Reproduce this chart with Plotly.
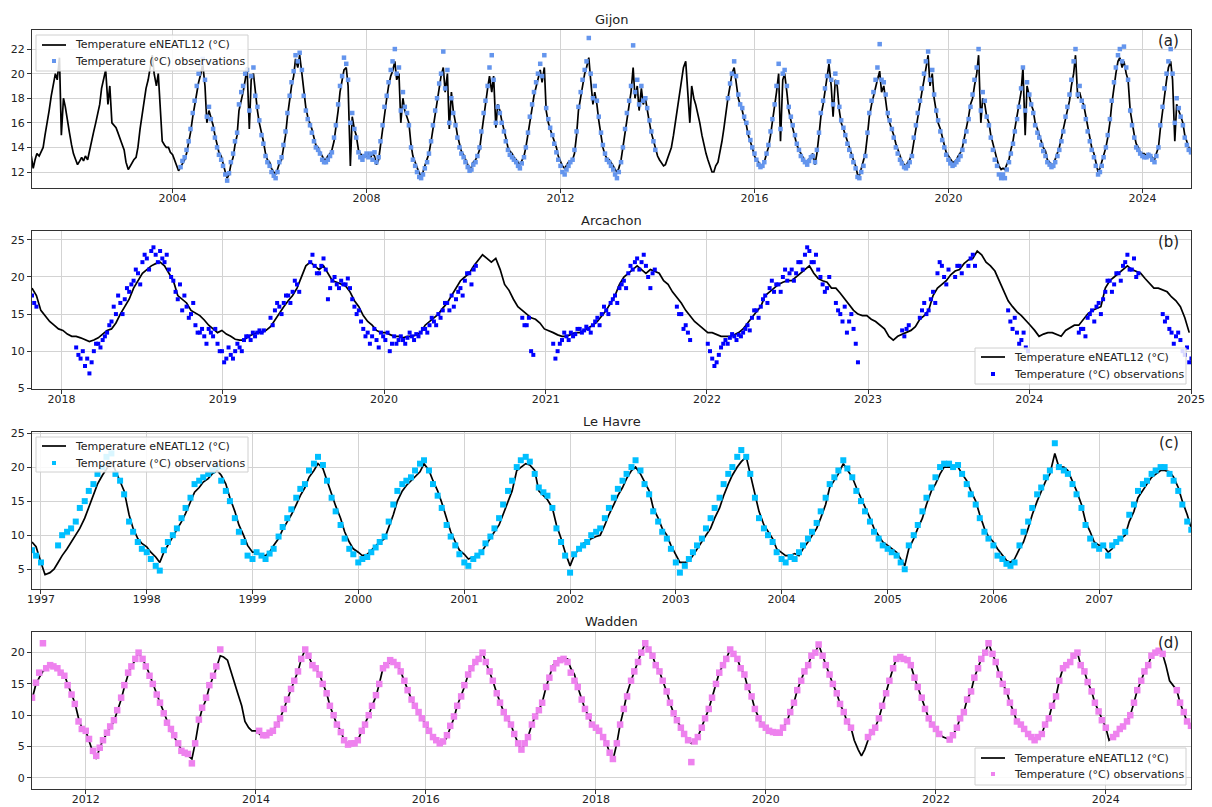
import plotly.graph_objects as go
import pandas as pd

# ---------------- DATA (semi-monthly rows: 1st and 15th of each month) ----------------
# Gijon model, first row starts 2001 slot 2 (Feb 1)
gijon_model_start = (2001, 2)
gijon_model = [
    [13.3, 12.3, 13.0, 13.5, 13.3, 13.7, 14.0, 15.0, 16.0, 17.0, 18.2, 19.0, 20.0, 19.5, 21.3, 15.0, 18.0, 17.3, 16.0, 15.2, 14.2, 13.5],
    [13.0, 12.6, 12.9, 13.2, 12.9, 13.3, 13.0, 13.8, 14.5, 15.2, 16.0, 16.8, 17.5, 18.8, 19.5, 20.3, 17.5, 19.0, 16.0, 15.8, 15.6, 15.2, 14.8, 14.3],
    [13.8, 12.8, 12.2, 12.5, 12.8, 13.0, 13.2, 14.0, 15.5, 16.5, 17.5, 18.8, 19.5, 20.5, 21.5, 20.0, 19.0, 20.0, 17.5, 14.5, 14.2, 14.0, 14.0, 13.6],
    [13.4, 13.0, 12.6, 12.1, 12.4, 12.7, 13.0, 13.5, 14.3, 15.2, 16.5, 17.5, 18.5, 19.3, 20.0, 20.8, 19.0, 16.0, 17.0, 16.5, 15.8, 15.0, 14.3, 13.6],
    [13.3, 12.6, 12.0, 11.5, 11.8, 12.6, 13.2, 14.2, 15.0, 17.0, 17.8, 18.5, 19.5, 20.5, 15.5, 19.5, 20.0, 18.5, 17.0, 16.0, 15.3, 14.5, 13.5, 13.0],
    [12.8, 12.3, 12.0, 11.8, 12.2, 12.7, 13.0, 14.0, 15.0, 16.5, 18.0, 19.0, 19.8, 21.2, 20.5, 21.5, 20.0, 18.5, 17.2, 16.5, 16.0, 15.5, 14.8, 14.2],
    [14.0, 13.6, 13.3, 13.0, 13.0, 13.3, 13.5, 13.8, 14.5, 15.5, 17.0, 18.5, 19.5, 20.3, 20.5, 19.0, 12.5, 16.5, 15.5, 15.0, 13.8, 13.5, 13.3, 13.4],
    [13.3, 13.5, 13.2, 13.5, 13.3, 12.6, 13.0, 14.2, 15.5, 17.0, 18.0, 19.0, 19.8, 20.2, 21.0, 19.5, 20.0, 16.0, 18.0, 17.0, 16.5, 16.0, 14.2, 13.3],
    [12.8, 12.3, 11.9, 11.7, 12.0, 12.5, 13.0, 13.5, 14.5, 15.5, 16.8, 17.8, 19.0, 19.8, 20.5, 18.5, 20.0, 15.5, 18.5, 17.0, 16.0, 15.0, 14.3, 13.7],
    [13.4, 13.0, 12.6, 12.3, 12.4, 12.8, 13.0, 13.3, 13.8, 15.0, 16.5, 17.5, 18.8, 19.8, 18.5, 19.8, 15.6, 17.5, 17.0, 16.2, 15.5, 14.8, 14.0, 13.7],
    [13.5, 13.2, 13.0, 12.8, 12.6, 12.9, 13.3, 14.0, 15.0, 16.2, 17.2, 18.2, 19.0, 19.5, 20.3, 19.3, 20.5, 17.0, 16.0, 15.5, 15.0, 14.5, 14.0, 13.3],
    [12.8, 12.5, 12.3, 12.6, 12.8, 12.9, 13.0, 13.5, 15.0, 17.0, 18.2, 19.2, 20.0, 20.5, 21.3, 19.5, 17.5, 18.5, 17.5, 16.2, 15.0, 14.0, 13.4, 13.1],
    [13.0, 12.8, 12.5, 12.2, 12.0, 12.3, 13.0, 14.0, 15.2, 16.5, 17.5, 18.5, 20.5, 18.0, 19.0, 17.0, 18.8, 17.5, 18.0, 17.0, 16.0, 15.2, 14.5, 13.8],
    [13.3, 13.0, 12.7, 12.5, 12.6, 13.0, 13.5, 14.0, 15.0, 16.0, 17.5, 18.5, 19.5, 20.5, 21.0, 19.0, 16.0, 19.0, 18.0, 17.5, 16.8, 16.0, 15.0, 14.2],
    [13.5, 13.0, 12.5, 12.0, 12.0, 12.5, 12.8, 13.5, 14.5, 15.5, 17.0, 18.0, 19.0, 20.0, 20.5, 19.5, 18.0, 17.5, 17.0, 16.3, 15.8, 15.0, 14.5, 14.0],
    [13.3, 13.0, 12.8, 12.5, 12.6, 12.8, 13.5, 14.0, 15.0, 16.0, 17.2, 18.5, 20.0, 14.5, 19.5, 20.0, 18.5, 17.0, 16.2, 15.5, 14.8, 14.2, 13.8, 13.5],
    [13.2, 12.9, 12.8, 13.0, 13.3, 13.5, 12.6, 13.5, 15.0, 16.5, 17.5, 18.5, 19.5, 20.8, 19.0, 16.5, 19.5, 19.0, 17.0, 16.0, 15.5, 15.0, 14.5, 14.0],
    [13.5, 13.0, 12.5, 11.8, 11.7, 12.3, 12.8, 13.5, 15.0, 16.5, 17.5, 18.2, 19.0, 19.5, 20.2, 18.5, 19.0, 18.0, 16.5, 16.0, 15.5, 15.0, 14.3, 13.8],
    [13.2, 12.9, 12.6, 12.5, 12.8, 13.0, 13.5, 14.5, 15.5, 16.5, 17.5, 18.5, 19.5, 20.5, 21.5, 19.0, 20.0, 18.0, 16.8, 16.0, 15.5, 14.8, 14.2, 13.6],
    [13.3, 13.0, 12.8, 12.8, 13.0, 13.3, 13.6, 14.0, 14.8, 15.5, 16.5, 17.5, 18.0, 19.0, 20.0, 21.5, 16.0, 18.0, 17.5, 16.5, 16.0, 15.0, 14.3, 13.5],
    [13.0, 12.5, 12.2, 12.3, 12.2, 12.6, 13.0, 13.8, 14.5, 15.5, 16.5, 17.5, 18.5, 20.5, 15.0, 19.0, 18.0, 17.5, 17.0, 16.0, 15.5, 15.0, 14.5, 14.0],
    [13.7, 13.0, 12.8, 12.6, 12.6, 13.0, 13.5, 14.0, 14.8, 15.5, 16.3, 17.0, 17.8, 19.0, 20.0, 21.5, 18.0, 18.5, 17.8, 17.5, 16.5, 15.5, 14.8, 14.0],
    [13.5, 12.8, 12.0, 12.3, 12.8, 13.3, 14.0, 14.8, 16.0, 17.5, 19.0, 20.0, 21.0, 21.3, 20.5, 21.0, 20.0, 19.5, 17.0, 16.0, 15.0, 14.3, 14.0, 13.6],
    [13.5, 13.5, 13.3, 13.5, 13.4, 13.2, 13.0, 13.5, 14.0, 15.5, 17.0, 18.5, 19.5, 20.5, 21.0, 19.5, 14.5, 17.5, 17.0, 16.5, 16.0, 15.0, 14.5, 14.0],
    [13.8],
]
# Gijon observations, two segments
gijon_obs_a_start = (2004, 4)
gijon_obs_a = [
    [12.4, 12.9, 13.2, 13.8, 14.5, 15.5, 16.8, 17.8, 19.0, 20.0, 20.8, 21.2, 19.5, 16.5, 17.3, 16.3, 15.5, 14.8, 14.0, 13.4],
    [13.0, 12.5, 11.8, 11.3, 11.9, 12.8, 13.5, 14.5, 15.2, 17.5, 18.5, 19.0, 20.0, 20.3, 17.0, 19.8, 20.5, 18.2, 17.3, 16.2, 15.0, 14.3, 13.3, 12.8],
    [12.5, 12.0, 11.7, 11.5, 12.0, 12.8, 13.2, 14.2, 15.3, 16.8, 18.2, 19.3, 20.2, 21.5, 21.0, 21.7, 20.3, 18.2, 17.0, 16.3, 15.8, 15.2, 14.5, 14.0],
    [13.8, 13.5, 13.0, 12.8, 12.8, 13.0, 13.3, 13.6, 14.8, 15.8, 17.5, 19.0, 19.8, 21.3, 20.8, 19.5, 16.0, 16.8, 15.5, 14.8, 13.6, 13.2, 13.0, 13.3],
    [13.5, 13.2, 13.5, 13.0, 13.6, 12.8, 13.2, 14.5, 15.8, 17.3, 18.2, 19.3, 20.3, 21.0, 22.0, 20.0, 20.5, 17.0, 18.5, 17.3, 16.8, 15.8, 14.0, 13.0],
    [12.5, 12.0, 11.6, 11.5, 11.8, 12.3, 12.8, 13.5, 14.5, 15.8, 17.0, 18.0, 19.2, 20.0, 21.8, 18.8, 20.3, 16.0, 18.0, 16.8, 15.8, 14.8, 14.0, 13.5],
    [13.2, 12.8, 12.4, 12.1, 12.2, 12.6, 12.8, 13.3, 14.0, 15.3, 16.8, 17.8, 19.0, 20.5, 21.5, 19.5, 16.0, 17.3, 16.8, 16.0, 15.3, 14.5, 13.8, 13.4],
    [13.2, 13.0, 12.8, 12.5, 12.3, 12.7, 13.2, 14.0, 15.2, 16.5, 17.5, 18.5, 19.3, 20.0, 20.8, 19.8, 21.5, 17.2, 16.3, 15.6, 15.0, 14.3, 13.6, 13.0],
    [12.5, 12.0, 11.8, 12.2, 12.5, 12.8, 13.0, 13.8, 15.3, 17.3, 18.5, 19.5, 20.3, 21.0, 22.9, 20.0, 18.0, 19.0, 17.8, 16.5, 15.2, 14.2, 13.5, 13.0],
    [12.8, 12.5, 12.2, 11.8, 11.5, 12.0, 12.8, 14.0, 15.5, 16.8, 17.8, 19.0, 22.3, 18.5, 19.5, 17.5, 19.0, 17.8, 18.0, 17.2, 16.2, 15.3, 14.5, 13.8],
]
gijon_obs_b_start = (2015, 11)
gijon_obs_b = [
    [18.0, 19.2, 20.0, 21.0, 19.8, 18.3, 17.5, 17.2, 16.5, 16.0, 15.2, 14.6, 14.0],
    [13.5, 13.0, 12.6, 12.4, 12.5, 12.8, 13.5, 14.2, 15.3, 16.3, 17.5, 19.0, 20.8, 15.5, 20.0, 20.3, 19.0, 17.3, 16.5, 15.8, 15.0, 14.3, 13.8, 13.3],
    [13.0, 12.8, 12.6, 12.9, 13.2, 13.3, 12.8, 13.8, 15.2, 16.8, 17.8, 18.8, 19.8, 21.0, 19.5, 17.5, 20.0, 19.3, 17.3, 16.2, 15.6, 15.0, 14.3, 13.8],
    [13.3, 12.8, 12.3, 11.6, 11.5, 12.0, 12.5, 13.3, 15.2, 16.8, 17.8, 18.5, 19.5, 20.5, 22.4, 19.5, 19.3, 18.3, 16.8, 16.2, 15.5, 14.8, 14.0, 13.5],
    [13.0, 12.7, 12.4, 12.3, 12.5, 12.8, 13.3, 14.8, 15.8, 16.8, 17.8, 18.8, 20.0, 21.0, 21.8, 19.5, 20.3, 18.3, 17.0, 16.2, 15.3, 14.6, 14.0, 13.4],
    [13.0, 12.7, 12.5, 12.6, 12.8, 13.0, 13.3, 13.8, 14.5, 15.3, 16.3, 17.3, 18.3, 19.5, 20.5, 22.0, 17.0, 18.5, 17.8, 16.5, 15.8, 14.8, 13.8, 13.0],
    [12.5, 11.8, 11.5, 11.8, 11.5, 12.2, 12.8, 13.5, 14.3, 15.3, 16.3, 17.3, 18.8, 20.5, 17.0, 19.3, 18.3, 17.5, 16.8, 15.8, 15.2, 14.8, 14.2, 13.7],
    [13.3, 12.8, 12.6, 12.4, 12.5, 12.8, 13.3, 13.8, 14.5, 15.3, 16.5, 17.3, 18.3, 19.5, 21.0, 22.0, 18.3, 19.0, 17.8, 17.3, 16.3, 15.3, 14.5, 13.8],
    [13.2, 12.5, 11.8, 12.0, 12.5, 13.2, 14.0, 15.0, 16.3, 17.8, 19.3, 20.5, 21.5, 22.0, 21.0, 22.2, 20.5, 19.5, 17.0, 15.8, 14.8, 14.0, 13.8, 13.5],
    [13.3, 13.2, 13.2, 13.4, 13.3, 13.0, 12.8, 13.3, 14.0, 15.8, 17.3, 18.8, 20.0, 21.0, 22.0, 20.0, 16.0, 18.0, 17.2, 16.5, 15.8, 14.8, 14.2, 13.8],
    [13.6],
]

# Arcachon: every 10 days from 2017-10-26 (second obs list is 5 days later)
arcachon_start = "2017-10-26"
arcachon_model = [
    18.5, 17.5, 15.5, 14.8, 14.0, 13.5, 13.0, 12.8, 12.3, 12.0,
    12.0, 11.8, 11.5, 11.3, 11.5, 11.8, 12.3, 12.8, 13.0, 13.8,
    15.0, 16.0, 17.0, 18.5, 19.5, 20.5, 21.0, 21.5, 21.8, 22.0,
    21.5, 20.5, 19.5, 17.5, 17.0, 16.5, 15.5, 15.2, 14.8, 14.2,
    13.5, 13.0, 12.5, 12.8, 12.3, 12.0, 11.6, 11.5, 11.5, 12.0,
    12.3, 12.5, 12.5, 12.8, 13.3, 14.2, 15.2, 16.0, 16.8, 17.5,
    18.5, 20.0, 21.5, 22.0, 21.5, 21.0, 21.5, 20.5, 19.5, 19.3,
    19.0, 18.8, 18.0, 16.8, 16.0, 14.8, 14.0, 13.5, 12.8, 12.5,
    12.5, 12.2, 12.0, 12.0, 11.8, 12.0, 12.0, 12.2, 12.5, 13.5,
    14.0, 14.5, 15.0, 15.8, 16.5, 17.5, 18.5, 19.5, 20.0, 20.5,
    21.5, 22.3, 23.0, 22.5, 22.0, 22.5, 21.0, 19.0, 18.2, 17.0,
    16.0, 15.5, 15.0, 14.5, 14.3, 13.8, 13.0, 12.8, 12.5, 12.2,
    12.0, 12.0, 12.3, 12.5, 12.5, 12.8, 13.2, 13.5, 14.0, 14.8,
    15.5, 16.5, 17.5, 19.0, 20.0, 20.5, 21.0, 21.5, 21.0, 20.5,
    21.0, 20.8, 20.5, 19.5, 19.0, 18.0, 17.2, 16.5, 15.5, 14.8,
    14.0, 13.5, 13.0, 12.5, 12.5, 12.2, 12.0, 12.0, 12.0, 12.2,
    12.5, 13.0, 13.8, 14.5, 15.3, 16.0, 17.5, 18.0, 18.5, 19.0,
    19.3, 19.5, 19.5, 20.0, 20.5, 21.0, 21.5, 20.5, 19.8, 19.5,
    19.3, 18.5, 18.5, 17.8, 17.0, 16.2, 15.5, 15.0, 14.8, 14.8,
    14.3, 14.0, 13.5, 13.0, 12.0, 11.5, 12.0, 12.3, 12.5, 12.8,
    13.3, 14.3, 14.8, 15.5, 17.5, 18.5, 19.0, 19.5, 20.3, 20.8,
    21.0, 21.8, 22.3, 22.5, 23.5, 23.0, 22.0, 21.5, 20.8, 19.5,
    18.0, 16.8, 16.0, 15.3, 14.8, 14.2, 13.5, 12.8, 12.0, 12.3,
    12.5, 12.5, 12.3, 12.0, 12.8, 13.2, 13.5, 13.5, 14.3, 15.0,
    15.5, 15.8, 16.0, 18.5, 19.5, 20.0, 20.5, 21.0, 21.5, 21.0,
    20.8, 20.5, 19.8, 19.2, 18.5, 18.5, 18.3, 18.0, 17.3, 16.8,
    16.0, 14.5, 12.5,
]
N = None
arcachon_obs = [
    17.5, 16.0, N, N, N, N, N, N, N, N,
    10.5, 9.0, 8.0, 7.0, 10.0, 11.0, 11.5, 12.5, 14.0, 15.0,
    16.5, 17.0, 18.0, 19.5, 20.5, 22.0, 22.5, 23.5, 23.0, 23.5,
    22.0, 21.0, 19.5, 17.0, 15.5, 16.0, 15.0, 13.5, 12.5, 12.0,
    13.0, 12.0, 11.0, 10.0, 9.0, 9.5, 10.0, 10.5, 11.5, 12.0,
    12.5, 12.5, 12.5, N, 14.5, 15.5, 16.0, 16.5, 17.5, 18.0,
    19.0, N, N, 22.0, 21.5, 20.5, 22.5, 17.0, 19.5, 19.0,
    19.5, 19.0, 18.5, 16.0, 15.5, 13.0, 12.5, 12.0, 11.5, 12.5,
    11.5, 10.0, 12.0, 11.5, 11.5, 11.8, 12.0, 12.3, 12.5, 13.0,
    13.5, 14.0, 15.0, 15.5, 16.5, 17.5, 17.0, 18.5, 19.5, 20.5,
    21.0, N, N, N, N, N, N, N, N, N,
    N, 14.5, 13.5, 10.0, N, N, N, N, 11.0, 10.0,
    11.5, 12.0, 12.5, 12.3, 13.0, 12.8, 13.0, 13.5, 14.5, 15.0,
    15.5, 16.5, 17.5, 18.5, 19.5, 20.5, 21.0, 22.5, 22.0, 21.5,
    18.5, 21.0, N, N, N, N, 16.0, 15.0, 13.5, 11.5,
    N, N, N, 11.0, 9.0, 8.5, 10.5, 11.5, 11.8, 12.0,
    12.2, 12.5, 13.5, 14.5, 15.5, 16.0, 17.5, 18.5, 18.0, 19.0,
    20.0, 19.5, 21.0, 20.5, 22.0, 23.0, 23.5, 22.0, 21.0, 19.0,
    18.5, N, 16.5, 15.0, 16.0, 14.0, 13.0, 8.5, N, N,
    N, N, N, N, N, N, N, 12.8, 13.0, N,
    N, 14.5, 16.5, 15.5, 18.0, 20.5, 21.5, 19.0, N, 20.0,
    21.5, N, 21.5, 23.0, N, N, N, N, N, N,
    N, 15.5, 13.0, 12.5, 11.5, 10.5, N, N, N, N,
    N, N, N, N, N, N, N, 12.5, 13.0, 14.5,
    15.5, 16.0, 15.0, 18.0, 19.5, 19.0, 20.5, 21.5, 23.0, 21.0,
    20.0, N, N, N, N, N, 15.0, 14.5, 12.5, 12.0,
    11.5, 9.5, 8.5,
]
arcachon_obs_mid = [
    16.5, N, N, N, N, N, N, N, N, N,
    9.5, 10.0, 9.0, 8.5, 11.0, 10.5, 12.0, 13.5, 16.0, 17.5,
    15.0, 18.5, 19.0, 21.0, 19.0, 23.0, 21.0, 24.0, 22.0, 22.5,
    23.0, 20.0, 18.0, 19.0, 17.5, 14.5, 16.5, 12.5, 13.0, 11.0,
    12.5, 13.0, 10.0, 8.5, 10.5, 9.0, 11.0, 10.0, 12.0, 11.5,
    12.0, 12.8, 12.8, N, 13.5, 16.5, 15.0, 17.5, 16.5, 19.5,
    18.0, N, N, 23.0, 20.5, 21.5, 21.0, 18.5, 20.0, 18.5,
    19.0, 19.8, 17.0, 15.0, 14.0, 12.0, 11.0, 13.0, 10.5, 12.0,
    12.5, 11.0, 11.0, 12.0, 11.0, 12.5, 11.5, 12.0, 13.0, 12.5,
    14.5, 13.5, 14.5, 16.5, 15.5, 16.0, 18.0, 17.5, 20.5, 19.0,
    21.5, N, N, N, N, N, N, N, N, N,
    N, 13.5, 14.5, 9.5, N, N, N, N, 9.0, 11.0,
    12.5, 11.5, 12.0, 13.0, 12.5, 13.3, 12.5, 14.0, 13.5, 16.0,
    15.0, 17.0, 16.5, 19.0, 18.5, 21.5, 22.0, 21.0, 23.0, 20.0,
    20.5, N, N, N, N, N, 15.0, 13.0, 12.5, N,
    N, N, N, 10.0, 8.0, 9.5, 11.0, 11.0, 12.3, 11.5,
    12.0, 13.0, 12.8, 15.5, 14.5, 17.0, 16.5, 19.5, 19.0, 18.0,
    21.0, 20.5, 19.5, 22.0, 21.0, 24.0, 22.0, 23.0, 20.0, 18.0,
    20.0, N, 15.5, 14.0, 12.5, 15.0, 11.0, N, N, N,
    N, N, N, N, N, N, N, 12.0, 13.5, N,
    N, 15.5, 15.0, 17.0, 16.5, 22.0, 20.0, 21.0, N, 21.5,
    20.5, N, 22.5, 21.5, N, N, N, N, N, N,
    N, 14.0, 14.5, 11.0, 12.5, 10.0, N, N, N, N,
    N, N, N, N, N, N, N, 13.0, 12.0, 15.0,
    14.0, 16.5, 17.0, 19.5, 18.0, 20.5, 19.5, 22.0, 21.0, 22.5,
    20.5, N, N, N, N, N, 14.0, 13.0, 11.0, 12.5,
    10.0, 10.5, 9.0,
]

# Le Havre, first row starts 1996 slot 22 (Dec 1)
lehavre_start = (1996, 22)
lehavre_model = [
    [9.0, 8.3],
    [6.0, 4.2, 4.5, 5.0, 6.0, 7.0, 8.0, 9.0, 10.2, 11.0, 12.5, 14.0, 16.0, 17.5, 18.8, 19.8, 20.8, 19.5, 18.0, 16.5, 13.0, 11.0, 9.5, 8.8],
    [8.3, 7.5, 6.8, 6.0, 7.5, 8.5, 9.8, 10.8, 12.0, 13.2, 15.0, 16.3, 17.0, 17.8, 18.3, 19.0, 19.5, 18.8, 17.5, 15.5, 13.5, 11.5, 10.0, 8.5],
    [7.5, 7.5, 7.0, 7.0, 7.5, 8.5, 9.5, 10.8, 12.0, 13.0, 14.5, 15.8, 17.0, 18.5, 19.5, 20.5, 19.8, 18.0, 16.0, 14.3, 12.5, 10.5, 9.0, 8.0],
    [7.5, 7.0, 7.2, 7.8, 8.5, 9.0, 9.5, 11.0, 13.0, 15.0, 16.5, 17.3, 18.0, 18.5, 19.3, 20.5, 19.5, 18.0, 16.5, 14.8, 12.5, 10.5, 9.0, 7.8],
    [7.2, 6.5, 6.8, 7.0, 7.5, 8.5, 9.5, 10.5, 11.5, 13.0, 15.0, 16.5, 19.5, 20.0, 20.5, 20.3, 19.5, 16.5, 15.8, 15.2, 14.0, 11.5, 9.5, 7.5],
    [5.5, 7.0, 8.0, 8.8, 9.0, 9.5, 9.8, 10.0, 11.5, 13.0, 14.5, 15.8, 17.0, 18.3, 19.5, 20.0, 19.0, 17.8, 16.5, 14.0, 12.5, 11.0, 10.0, 8.5],
    [7.0, 6.0, 6.0, 6.2, 7.0, 8.0, 9.0, 10.0, 11.0, 12.5, 14.0, 15.8, 17.5, 18.8, 20.0, 20.8, 21.5, 19.0, 16.0, 13.5, 11.5, 10.5, 9.5, 8.0],
    [7.5, 7.0, 7.0, 7.3, 7.0, 8.0, 9.0, 10.0, 11.0, 12.5, 14.5, 17.0, 18.0, 19.0, 20.5, 19.5, 18.5, 17.0, 15.5, 14.0, 12.5, 11.0, 10.0, 9.0],
    [8.5, 8.0, 7.5, 6.5, 5.5, 8.0, 9.5, 11.0, 12.5, 14.5, 16.5, 17.5, 19.0, 20.0, 20.0, 20.0, 20.0, 19.0, 18.0, 16.5, 15.0, 13.0, 11.0, 9.8],
    [9.0, 8.0, 7.0, 6.3, 6.0, 6.5, 8.0, 9.0, 11.0, 13.0, 15.0, 16.5, 18.0, 19.0, 22.0, 20.0, 20.0, 19.5, 18.0, 16.5, 14.5, 12.0, 10.5, 9.0],
    [8.5, 8.5, 7.5, 8.0, 9.0, 9.5, 10.0, 12.0, 13.5, 15.5, 16.5, 17.5, 18.5, 19.0, 19.5, 19.5, 19.3, 18.5, 17.0, 15.0, 13.0, 11.0],
]
lehavre_obs = [
    [7.8, 7.0],
    [6.0, N, N, N, 8.5, 10.0, 10.5, 11.0, 12.0, 14.0, 15.0, 16.5, 17.5, 19.0, 20.0, 21.5, 22.0, 19.0, 18.0, 16.0, 12.0, 10.5, 9.0, 8.0],
    [7.5, 6.5, 5.5, 4.8, 7.8, 9.0, 10.0, 11.0, 12.5, 14.0, 15.5, 17.5, 18.0, 18.5, 19.0, 19.5, 20.0, 18.0, 16.5, 15.0, 12.5, 10.5, 9.0, 7.0],
    [6.5, 7.5, 7.0, 6.5, 7.3, 8.0, 9.8, 11.2, 12.5, 13.8, 15.5, 16.8, 17.5, 19.5, 20.5, 21.5, 20.3, 18.0, 15.5, 13.5, 11.5, 9.5, 8.0, 7.2],
    [6.0, 6.5, 6.8, 7.5, 8.2, 9.0, 9.8, 12.0, 14.5, 16.5, 17.5, 18.0, 18.5, 19.5, 20.5, 21.0, 19.5, 17.5, 15.8, 14.0, 11.5, 9.8, 8.5, 7.2],
    [6.0, 5.5, 6.5, 7.0, 7.5, 8.8, 9.8, 11.0, 12.5, 14.5, 16.5, 18.0, 20.0, 21.0, 21.5, 20.8, 19.0, 17.0, 16.3, 15.8, 14.0, 11.0, 9.0, 7.0],
    [4.5, 7.2, 8.0, 8.5, 9.0, 10.0, 10.5, 11.0, 12.5, 14.0, 15.5, 16.8, 18.0, 19.0, 20.0, 21.0, 19.5, 17.5, 16.0, 13.5, 12.0, 10.5, 9.5, 8.0],
    [6.0, 4.5, 5.5, 6.5, 7.5, 8.5, 9.5, 11.0, 12.5, 14.0, 15.5, 17.5, 19.0, 20.0, 21.5, 22.5, 21.5, 19.0, 15.5, 12.5, 11.0, 10.0, 9.0, 7.5],
    [6.5, 6.0, 6.8, 6.5, 7.5, 8.5, 9.5, 10.5, 11.8, 13.5, 15.5, 17.5, 18.5, 19.5, 21.0, 19.8, 18.5, 16.5, 15.0, 13.5, 12.0, 10.5, 9.5, 8.5],
    [8.0, 7.5, 7.0, 6.0, 5.0, 8.5, 10.0, 11.5, 13.5, 15.5, 17.0, 18.5, 20.0, 20.5, 20.5, 20.0, 20.3, 19.0, 17.5, 16.0, 14.5, 12.5, 10.5, 9.5],
    [8.5, 7.0, 6.5, 5.8, 5.5, 6.0, 8.5, 10.5, 12.0, 14.0, 16.0, 17.0, 18.5, 19.5, 23.5, 20.0, 19.5, 19.0, 17.5, 16.0, 14.0, 11.5, 9.5, 8.5],
    [8.0, 8.5, 7.0, 8.5, 9.0, 9.5, 10.5, 13.0, 14.5, 16.5, 17.5, 18.0, 19.0, 19.5, 20.0, 20.0, 19.0, 18.0, 16.5, 14.5, 12.0, 10.8],
]

# Wadden, first row starts 2011 slot 9 (May 15)
wadden_start = (2011, 9)
wadden_model = [
    [12.5, 15.0, 16.0, 17.0, 17.5, 18.0, 18.0, 17.5, 17.0, 16.5, 15.0, 13.5, 12.0, 9.5, 8.0],
    [7.5, 6.0, 4.0, 3.0, 4.8, 6.0, 7.0, 8.0, 9.0, 10.5, 12.5, 14.5, 16.5, 17.8, 18.8, 20.0, 19.0, 18.0, 16.5, 15.0, 13.5, 12.0, 10.5, 9.0],
    [7.5, 6.5, 5.5, 4.5, 4.0, 3.5, 3.0, 5.5, 9.0, 11.0, 12.5, 14.5, 16.0, 17.5, 19.5, 19.3, 18.8, 17.0, 15.0, 13.5, 11.5, 9.0, 8.0, 7.5],
    [7.5, 7.0, 6.5, 6.5, 7.0, 7.5, 8.5, 9.5, 11.0, 12.5, 14.0, 15.5, 17.0, 19.0, 20.5, 19.5, 18.0, 17.5, 16.5, 15.0, 13.5, 11.5, 10.0, 8.5],
    [7.5, 6.0, 5.5, 5.5, 5.5, 6.0, 7.5, 8.5, 10.0, 11.5, 13.0, 15.0, 17.5, 18.0, 18.5, 18.5, 18.0, 17.0, 15.5, 14.0, 12.5, 11.5, 10.5, 9.5],
    [8.5, 7.5, 6.5, 6.0, 5.5, 5.5, 6.5, 8.0, 9.5, 11.5, 13.0, 14.5, 16.5, 17.5, 18.5, 19.0, 20.0, 18.5, 17.0, 15.5, 13.5, 12.0, 10.5, 9.5],
    [8.5, 7.0, 5.5, 4.3, 5.5, 6.5, 8.5, 9.8, 10.8, 12.0, 14.5, 16.0, 18.0, 18.5, 19.0, 19.0, 19.0, 17.5, 16.5, 14.5, 12.5, 11.0, 9.8, 8.5],
    [8.0, 7.5, 6.5, 5.5, 4.0, 2.8, 5.5, 8.5, 11.0, 13.5, 15.5, 17.0, 18.5, 20.0, 21.5, 20.5, 19.5, 18.0, 17.0, 15.5, 13.8, 12.0, 10.3, 9.2],
    [8.0, 7.0, 6.0, 5.5, 5.8, 6.5, 8.0, 9.5, 11.0, 12.8, 15.0, 16.8, 18.0, 19.0, 20.5, 19.8, 19.0, 17.5, 16.5, 14.5, 13.0, 11.0, 9.5, 8.5],
    [8.0, 7.5, 7.3, 7.2, 7.2, 8.0, 9.0, 10.5, 12.0, 14.0, 15.5, 17.0, 18.0, 19.5, 20.0, 21.3, 19.5, 18.0, 16.5, 15.0, 13.5, 11.8, 10.5, 9.0],
    [8.0, 6.0, 4.5, 3.5, 4.5, 6.0, 7.3, 8.0, 9.5, 11.5, 13.5, 15.5, 17.5, 19.0, 19.3, 19.0, 18.8, 18.0, 16.0, 14.5, 12.8, 11.0, 9.5, 8.5],
    [7.8, 7.0, 6.5, 6.3, 6.1, 6.8, 8.0, 9.5, 10.5, 12.5, 13.8, 16.0, 17.5, 19.0, 20.0, 21.5, 19.8, 18.5, 16.5, 15.0, 13.8, 12.0, 10.5, 9.0],
    [8.5, 7.8, 7.0, 6.5, 6.0, 6.5, 7.0, 8.5, 9.5, 11.5, 13.0, 15.5, 17.5, 18.0, 18.5, 19.5, 20.0, 18.0, 17.0, 15.3, 13.8, 12.0, 10.6, 9.2],
    [8.0, 6.0, 6.5, 7.0, 7.8, 8.2, 9.0, 10.0, 12.0, 14.0, 15.5, 17.0, 18.0, 19.5, 20.0, 20.3, 19.8, 18.0, 15.5, 14.8, 14.0, 12.0, 10.5, 9.0],
    [8.3],
]
wadden_obs = [
    [12.8, 15.2, 16.8, 21.5, 17.5, 18.0, 17.8, 17.5, 16.8, 16.3, 14.8, 13.3, 11.8, 9.0, 7.8],
    [7.5, 6.2, 4.3, 3.5, 4.8, 6.0, 7.2, 8.2, 9.2, 10.8, 12.8, 14.8, 16.8, 17.8, 19.0, 20.0, 19.0, 17.8, 16.3, 15.0, 13.3, 12.0, 10.3, 8.8],
    [7.8, 6.8, 5.5, 4.3, 4.0, 3.8, 2.3, 5.5, 9.3, 11.2, 12.8, 14.8, 16.3, 17.8, 20.5, N, N, N, N, N, N, N, N, N],
    [N, 7.5, 6.8, 6.8, 7.2, 7.5, 8.5, 9.5, 11.0, 12.5, 14.2, 15.5, 17.0, 19.0, 20.5, 19.5, 18.0, 17.5, 16.5, 15.0, 13.5, 11.5, 10.0, 8.5],
    [7.3, 6.0, 5.3, 5.5, 5.5, 6.0, 7.5, 8.5, 10.0, 11.5, 13.2, 15.0, 17.5, 18.0, 18.8, 18.5, 18.0, 17.0, 15.5, 14.0, 12.5, 11.5, 10.5, 9.5],
    [8.5, 7.5, 6.5, 6.0, 5.5, 5.8, 6.8, 8.3, 9.8, 11.5, 13.0, 14.8, 16.5, 17.5, 18.5, 19.0, 20.0, 18.5, 17.0, 15.5, 13.5, 12.0, 10.5, 9.5],
    [8.5, 7.0, 5.5, 4.5, 5.5, 6.5, 8.5, 9.8, 10.8, 12.0, 14.5, 16.0, 17.5, 18.3, 18.8, 19.0, 18.5, 16.8, 15.5, 14.5, 12.5, 11.0, 9.8, 8.5],
    [8.0, 7.5, 6.5, 5.5, 4.0, 3.0, 5.5, 8.5, 11.0, 13.0, 15.5, 17.0, 18.5, 20.0, 21.5, 20.5, 19.5, 18.0, 17.0, 15.5, 13.8, 12.0, 10.3, 9.2],
    [8.0, 7.0, 6.0, 2.5, 5.8, 6.5, 8.0, 9.5, 11.0, 12.8, 15.0, 16.8, 18.0, 19.0, 20.5, 19.8, 19.0, 17.5, 16.5, 14.5, 13.0, 11.0, 9.5, 8.5],
    [8.0, 7.5, 7.3, 7.2, 7.2, 8.0, 9.0, 10.5, 12.0, 14.0, 15.5, 17.0, 18.0, 19.5, 20.0, 21.3, 19.5, 18.0, 16.5, 15.0, 13.5, 11.8, 10.5, 9.0],
    [8.0, N, N, N, N, 6.5, 7.3, 8.0, 9.5, 11.5, 13.5, 15.5, 17.5, 19.0, 19.3, 19.0, 18.8, 18.0, 16.0, 14.5, 12.8, 11.0, 9.5, 8.5],
    [7.8, 7.0, N, N, 6.1, 6.8, 8.0, 9.5, 10.5, 12.5, 13.8, 16.0, 17.5, 19.0, 20.0, 21.5, 19.8, 18.5, 16.5, 15.0, 13.8, 12.0, 10.5, 9.0],
    [8.5, 7.8, 7.0, 6.5, 6.0, 6.5, 7.0, 8.5, 9.5, 11.5, 13.0, 15.5, 17.5, 18.0, 18.5, 19.5, 20.0, 18.0, 17.0, 15.3, 13.8, 12.0, 10.6, 9.2],
    [8.0, N, 6.5, 7.0, 7.8, 8.2, 9.0, 10.0, 12.0, 14.0, 15.5, 17.0, 18.0, 19.5, 20.0, 20.3, 19.8, N, N, N, 14.0, 12.0, 10.5, 9.0],
    [8.3],
]

titles = ["Gijon", "Arcachon", "Le Havre", "Wadden"]
panel_labels = ["(a)", "(b)", "(c)", "(d)"]
model_name = "Temperature eNEATL12 (°C)"
obs_name = "Temperature (°C) observations"
obs_colors = ["#6495ED", "#0000FF", "#00BFFF", "#EE82EE"]


# ---------------- helpers ----------------
def semi_monthly(start, rows):
    year, slot = start
    xs, ys = [], []
    for row in rows:
        for v in row:
            m = slot // 2 + 1
            d = 1 if slot % 2 == 0 else 15
            xs.append(f"{year:04d}-{m:02d}-{d:02d}")
            ys.append(v)
            slot += 1
            if slot == 24:
                slot = 0
                year += 1
        if slot != 0:
            slot = 0
            year += 1
    return xs, ys


gx_m, gy_m = semi_monthly(gijon_model_start, gijon_model)
gxa, gya = semi_monthly(gijon_obs_a_start, gijon_obs_a)
gxb, gyb = semi_monthly(gijon_obs_b_start, gijon_obs_b)
gx_o, gy_o = gxa + gxb, gya + gyb

arc_rng = pd.date_range(arcachon_start, periods=len(arcachon_model), freq="10D")
arc_dates = [d.strftime("%Y-%m-%d") for d in arc_rng]
arc_dates_mid = [(d + pd.Timedelta(days=5)).strftime("%Y-%m-%d") for d in arc_rng]
n1 = min(len(arc_dates), len(arcachon_obs))
n2 = min(len(arc_dates_mid), len(arcachon_obs_mid))
ax_m, ay_m = arc_dates, arcachon_model
ax_o = arc_dates[:n1] + arc_dates_mid[:n2]
ay_o = arcachon_obs[:n1] + arcachon_obs_mid[:n2]

lx_m, ly_m = semi_monthly(lehavre_start, lehavre_model)
lx_o, ly_o = semi_monthly(lehavre_start, lehavre_obs)

wx_m, wy_m = semi_monthly(wadden_start, wadden_model)
wx_o, wy_o = semi_monthly(wadden_start, wadden_obs)

series = [
    (gx_m, gy_m, gx_o, gy_o),
    (ax_m, ay_m, ax_o, ay_o),
    (lx_m, ly_m, lx_o, ly_o),
    (wx_m, wy_m, wx_o, wy_o),
]

# ---------------- layout geometry (pixels) ----------------
W, H = 1212, 807
L, R = 32, 1191
panels_px = [(30, 188), (231, 389), (432, 589), (632, 789)]
xranges = [["2001-02-06", "2025-01-01"], ["2017-10-26", "2025-01-01"],
           ["1996-12-01", "2007-11-14"], ["2011-05-15", "2025-01-01"]]
yranges = [[10.7, 23.55], [4.9, 26.2], [2.1, 25.15], [-1.8, 23.3]]
xticks = [list(range(2004, 2025, 4)), list(range(2018, 2026)),
          list(range(1997, 2008)), list(range(2012, 2025, 2))]
yticks = [[12, 14, 16, 18, 20, 22], [5, 10, 15, 20, 25], [5, 10, 15, 20, 25], [0, 5, 10, 15, 20]]
marker_sizes = [4.5, 4, 6, 6.5]

# legend boxes: (left, top, right, bottom, line_y, marker_y)
legend_px = [(36, 35, 248, 71, 45, 61), (975, 348, 1186, 384, 357, 374),
             (36, 437, 248, 472, 446, 463), (975, 748, 1186, 785, 758, 774)]

pw = R - L


def px_x(p):
    return (p - L) / pw


def px_y(p):
    return 1 - p / H


fig = go.Figure()
font_family = "DejaVu Sans, Arial, sans-serif"

for i in range(4):
    xm, ym, xo, yo = series[i]
    xa = "x" if i == 0 else f"x{i+1}"
    ya = "y" if i == 0 else f"y{i+1}"
    fig.add_trace(go.Scatter(x=xm, y=ym, mode="lines", name=model_name,
                             line=dict(color="black", width=1.7),
                             xaxis=xa, yaxis=ya, showlegend=False))
    fig.add_trace(go.Scatter(x=xo, y=yo, mode="markers", name=obs_name,
                             marker=dict(color=obs_colors[i], size=marker_sizes[i], symbol="square",
                                         line=dict(width=0)),
                             xaxis=xa, yaxis=ya, showlegend=False))

layout = dict(
    width=W, height=H, autosize=False,
    margin=dict(l=L, r=W - R, t=0, b=0),
    paper_bgcolor="white", plot_bgcolor="white",
    font=dict(family=font_family, size=11, color="#222"),
    hovermode=False, showlegend=False,
)

axis_common = dict(showline=True, linecolor="#333", linewidth=1, mirror=True,
                   showgrid=True, gridcolor="#d3d3d3", gridwidth=1,
                   ticks="outside", tickcolor="#333", tickwidth=1,
                   zeroline=False, automargin=False,
                   tickfont=dict(family=font_family, size=11, color="#222"))

annotations = []
shapes = []
for i in range(4):
    top, bot = panels_px[i]
    xk = "xaxis" if i == 0 else f"xaxis{i+1}"
    yk = "yaxis" if i == 0 else f"yaxis{i+1}"
    ya = "y" if i == 0 else f"y{i+1}"
    xa = "x" if i == 0 else f"x{i+1}"
    layout[xk] = dict(axis_common, type="date", range=xranges[i], domain=[0, 1], anchor=ya,
                      ticklen=4, ticklabelstandoff=-4,
                      tickvals=[f"{y}-01-01" for y in xticks[i]],
                      ticktext=[str(y) for y in xticks[i]])
    layout[yk] = dict(axis_common, range=yranges[i], domain=[px_y(bot), px_y(top)], anchor=xa,
                      ticklen=4,
                      tickvals=yticks[i], ticktext=[str(v) for v in yticks[i]])
    annotations.append(dict(text=titles[i], xref="paper", yref="paper",
                            x=0.5, y=px_y(top - 10.5), xanchor="center", yanchor="middle",
                            showarrow=False, font=dict(size=13, family=font_family, color="#222")))
    annotations.append(dict(text=panel_labels[i], xref="paper", yref="paper",
                            x=px_x(1181), y=px_y(top + 11), xanchor="right", yanchor="middle",
                            showarrow=False, font=dict(size=15, family=font_family, color="#222")))

    # manual legend
    lx0, ly0, lx1, ly1, lny, mky = legend_px[i]
    shapes.append(dict(type="rect", xref="paper", yref="paper", layer="above",
                       x0=px_x(lx0), x1=px_x(lx1), y0=px_y(ly1), y1=px_y(ly0),
                       fillcolor="rgba(255,255,255,0.85)", line=dict(color="#d0d0d0", width=1)))
    shapes.append(dict(type="line", xref="paper", yref="paper", layer="above",
                       x0=px_x(lx0 + 6), x1=px_x(lx0 + 30), y0=px_y(lny), y1=px_y(lny),
                       line=dict(color="black", width=1.7)))
    mcx = lx0 + 18
    shapes.append(dict(type="rect", xref="paper", yref="paper", layer="above",
                       x0=px_x(mcx - 2), x1=px_x(mcx + 2), y0=px_y(mky + 2), y1=px_y(mky - 2),
                       fillcolor=obs_colors[i], line=dict(width=0)))
    for txt, ty in ((model_name, lny), (obs_name, mky)):
        annotations.append(dict(text=txt, xref="paper", yref="paper",
                                x=px_x(lx0 + 37), y=px_y(ty), xanchor="left", yanchor="middle",
                                showarrow=False, font=dict(size=11, family=font_family, color="#222")))

layout["annotations"] = annotations
layout["shapes"] = shapes

fig.update_layout(**layout)
fig.write_html("out.html")
